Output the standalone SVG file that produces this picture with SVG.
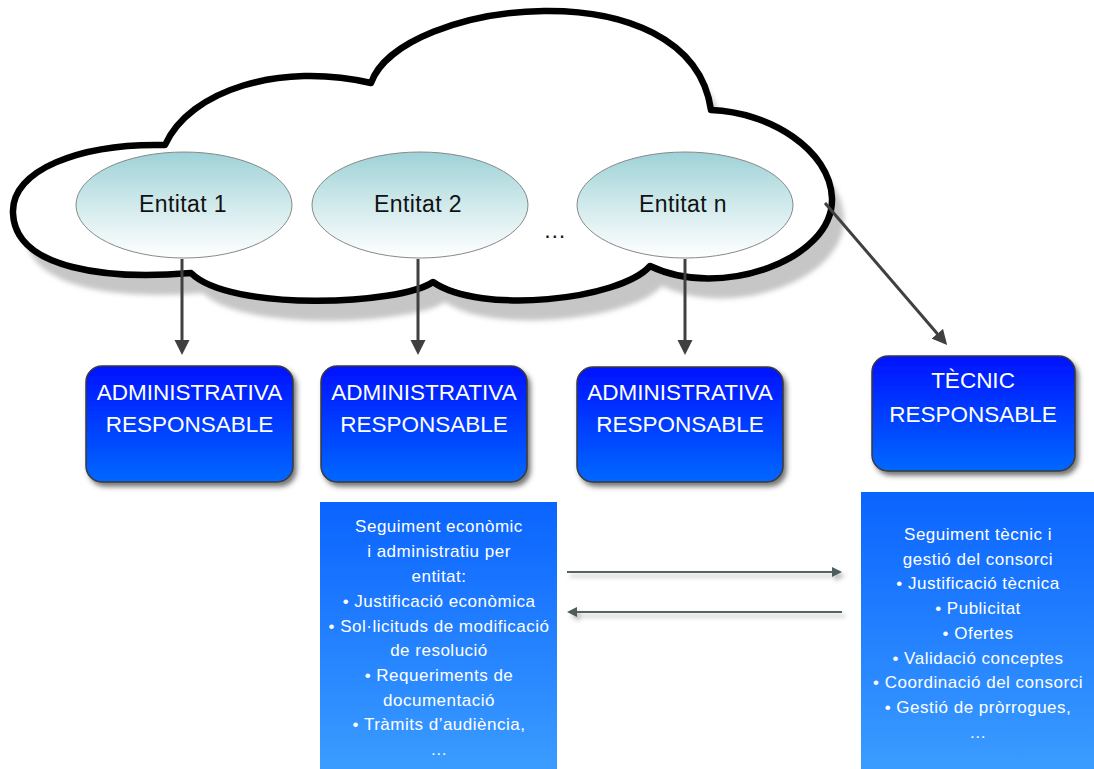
<svg xmlns="http://www.w3.org/2000/svg" width="1094" height="769" viewBox="0 0 1094 769">
<style>
.ent{font-family:"Liberation Sans",Arial,sans-serif;font-size:23px;fill:#111;text-anchor:middle;letter-spacing:0.4px}
.btxt{font-family:"Liberation Sans",Arial,sans-serif;font-size:22.5px;fill:#fff;text-anchor:middle}
.ltxt{font-family:"Liberation Sans",Arial,sans-serif;font-size:17px;fill:#fff;text-anchor:middle;letter-spacing:0.5px}
.conn{stroke:#404040;stroke-width:3;fill:none}
.hconn{stroke:#566464;stroke-width:2;fill:none}
.ell{stroke:#888;stroke-width:1;fill:url(#gEll)}
.box{fill:url(#gBox);stroke:#3a3a3a;stroke-width:1.5}
.tbox{fill:url(#gTxt)}
</style>
<defs>
<linearGradient id="gEll" x1="0" y1="0" x2="0" y2="1">
<stop offset="0" stop-color="#9ed2d7"/>
<stop offset="0.55" stop-color="#d6ecee"/>
<stop offset="1" stop-color="#ffffff"/>
</linearGradient>
<linearGradient id="gBox" x1="0" y1="0" x2="0" y2="1">
<stop offset="0" stop-color="#0012ff"/>
<stop offset="1" stop-color="#0068ff"/>
</linearGradient>
<linearGradient id="gTxt" x1="0" y1="0" x2="0" y2="1">
<stop offset="0" stop-color="#0a64ff"/>
<stop offset="1" stop-color="#3b9cff"/>
</linearGradient>
<filter id="fBlur" x="-10%" y="-10%" width="120%" height="130%">
<feGaussianBlur stdDeviation="2.5"/>
</filter>
<filter id="fBoxSh" x="-10%" y="-10%" width="125%" height="130%">
<feDropShadow dx="3" dy="4" stdDeviation="2.5" flood-color="#333" flood-opacity="0.65"/>
</filter>
<filter id="fLineSh" x="-5%" y="-200%" width="110%" height="500%">
<feDropShadow dx="3" dy="4" stdDeviation="2" flood-color="#777" flood-opacity="0.5"/>
</filter>
<marker id="ah" markerUnits="userSpaceOnUse" markerWidth="16" markerHeight="16" viewBox="0 0 16 16" refX="1" refY="8" orient="auto">
<path d="M0,0.5 L15,8 L0,15.5 z" fill="#404040"/>
</marker>
<marker id="ah2" markerUnits="userSpaceOnUse" markerWidth="11" markerHeight="11" viewBox="0 0 11 11" refX="1" refY="5.5" orient="auto">
<path d="M0,0.5 L10,5.5 L0,10.5 z" fill="#4e5c5c"/>
</marker>
<path id="cloudPath" d="M165,145 C190,90 280,62 371,83 C400,0 690,-35 711,110 C770,112 830,150 832,198 C834,260 720,300 650,266 C620,300 480,315 433,282 C400,305 230,312 191,273 C110,280 15,270 13,213 C11,170 80,143 165,145 Z"/>
</defs>

<g id="cloud">
<use href="#cloudPath" transform="translate(12,20)" fill="#c6c6c6" filter="url(#fBlur)"/>
<use href="#cloudPath" fill="#ffffff" stroke="#000" stroke-width="6.5" stroke-linejoin="round"/>
</g>

<g id="entitat1">
<ellipse class="ell" cx="184" cy="205" rx="108" ry="53"/>
<text class="ent" x="183" y="212">Entitat 1</text>
</g>
<g id="entitat2">
<ellipse class="ell" cx="420" cy="205" rx="108" ry="53"/>
<text class="ent" x="418" y="212">Entitat 2</text>
</g>
<g id="ellipsis">
<text class="ent" x="555" y="238">…</text>
</g>
<g id="entitatn">
<ellipse class="ell" cx="685" cy="205" rx="108" ry="53"/>
<text class="ent" x="683" y="212">Entitat n</text>
</g>

<g id="connectors">
<line class="conn" x1="182" y1="259" x2="182" y2="341" marker-end="url(#ah)"/>
<line class="conn" x1="418" y1="259" x2="418" y2="341" marker-end="url(#ah)"/>
<line class="conn" x1="685" y1="259" x2="685" y2="341" marker-end="url(#ah)"/>
<line class="conn" x1="825" y1="203" x2="938" y2="334.5" marker-end="url(#ah)"/>
<g filter="url(#fLineSh)">
<line class="hconn" x1="567" y1="572" x2="833" y2="572" marker-end="url(#ah2)"/>
<line class="hconn" x1="842" y1="612" x2="576" y2="612" marker-end="url(#ah2)"/>
</g>
</g>

<g id="admin1">
<rect class="box" x="86" y="366" width="207" height="116" rx="16" filter="url(#fBoxSh)"/>
<text class="btxt" x="189.5" y="400">ADMINISTRATIVA</text>
<text class="btxt" x="189.5" y="432">RESPONSABLE</text>
</g>
<g id="admin2">
<rect class="box" x="321" y="366" width="206" height="116" rx="16" filter="url(#fBoxSh)"/>
<text class="btxt" x="424" y="400">ADMINISTRATIVA</text>
<text class="btxt" x="424" y="432">RESPONSABLE</text>
</g>
<g id="admin3">
<rect class="box" x="577" y="367" width="206" height="115" rx="16" filter="url(#fBoxSh)"/>
<text class="btxt" x="680" y="400">ADMINISTRATIVA</text>
<text class="btxt" x="680" y="432">RESPONSABLE</text>
</g>
<g id="tecnic">
<rect class="box" x="872" y="356" width="203" height="115" rx="16" filter="url(#fBoxSh)"/>
<text class="btxt" x="973" y="388">TÈCNIC</text>
<text class="btxt" x="973" y="422">RESPONSABLE</text>
</g>

<g id="seguimentAdmin">
<rect class="tbox" x="320" y="502" width="237" height="267"/>
<text class="ltxt" x="439" y="532">Seguiment econòmic</text>
<text class="ltxt" x="439" y="557">i administratiu per</text>
<text class="ltxt" x="439" y="582">entitat:</text>
<text class="ltxt" x="439" y="607">• Justificació econòmica</text>
<text class="ltxt" x="439" y="632">• Sol·licituds de modificació</text>
<text class="ltxt" x="439" y="656">de resolució</text>
<text class="ltxt" x="439" y="681">• Requeriments de</text>
<text class="ltxt" x="439" y="706">documentació</text>
<text class="ltxt" x="439" y="730">• Tràmits d’audiència,</text>
<text class="ltxt" x="439" y="755">…</text>
</g>

<g id="seguimentTecnic">
<rect class="tbox" x="861" y="492" width="233" height="277"/>
<text class="ltxt" x="978" y="540">Seguiment tècnic i</text>
<text class="ltxt" x="978" y="565">gestió del consorci</text>
<text class="ltxt" x="978" y="589">• Justificació tècnica</text>
<text class="ltxt" x="978" y="614">• Publicitat</text>
<text class="ltxt" x="978" y="639">• Ofertes</text>
<text class="ltxt" x="978" y="664">• Validació conceptes</text>
<text class="ltxt" x="978" y="688">• Coordinació del consorci</text>
<text class="ltxt" x="978" y="713">• Gestió de pròrrogues,</text>
<text class="ltxt" x="978" y="738">…</text>
</g>
</svg>
